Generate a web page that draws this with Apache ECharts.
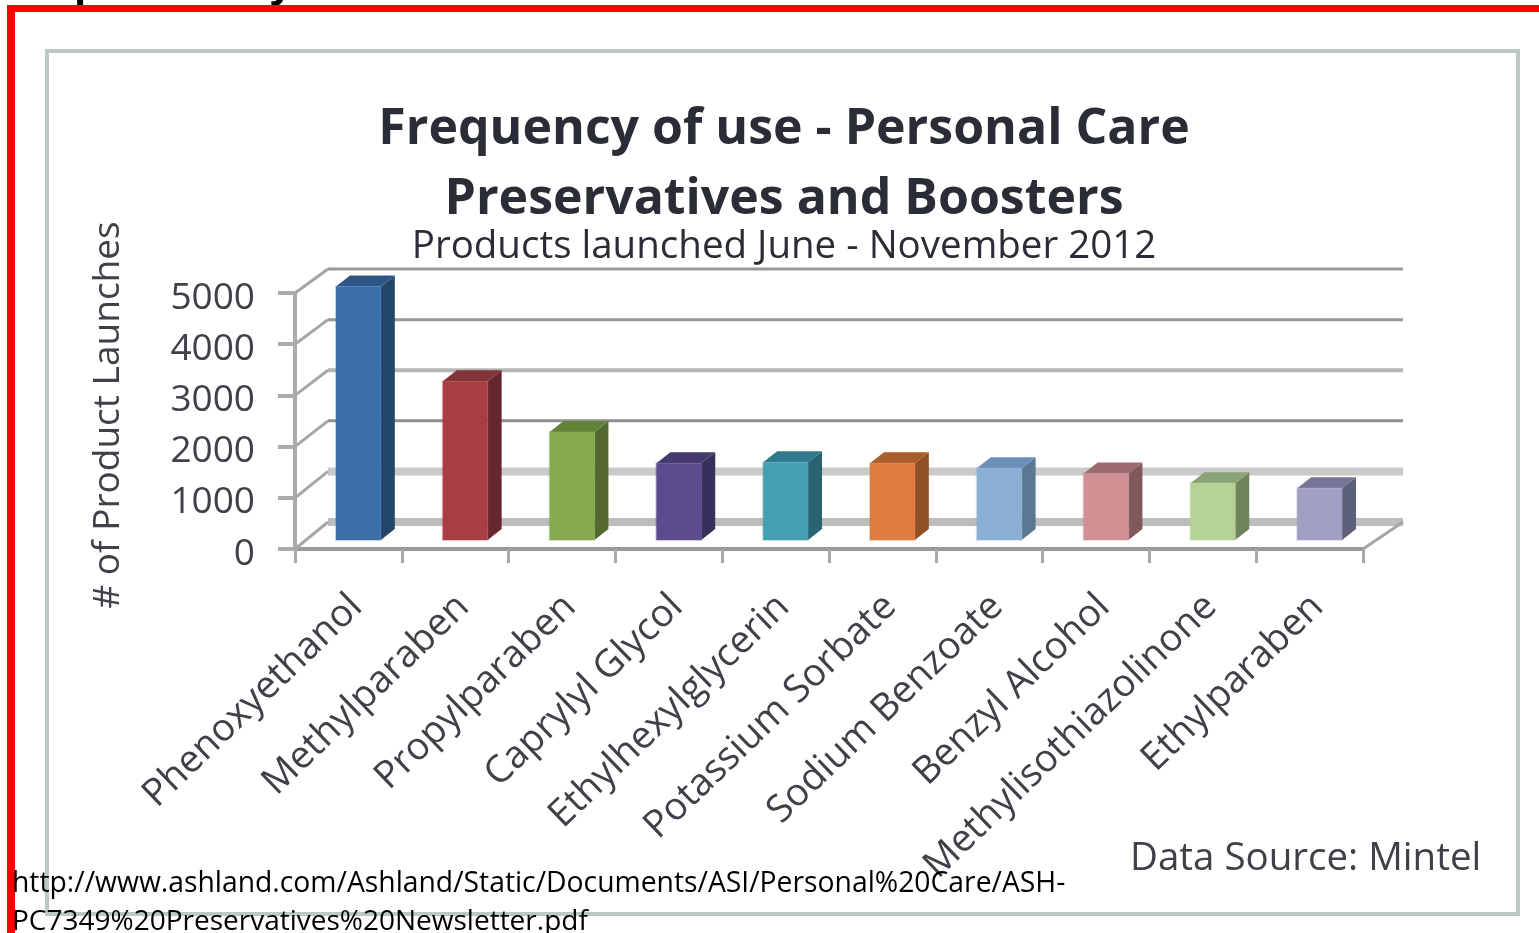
<!DOCTYPE html>
<html>
<head>
<meta charset="utf-8">
<title>Frequency of use - Personal Care Preservatives and Boosters</title>
<style>
html,body{margin:0;padding:0;background:#fff;overflow:hidden}
#chart{width:1539px;height:933px}
</style>
<script src="https://cdn.jsdelivr.net/npm/echarts@6/dist/echarts.min.js"></script>
</head>
<body>
<div id="chart"></div>
<script>
// Preservative usage in personal care launches
const categories = ['Phenoxyethanol','Methylparaben','Propylparaben','Caprylyl Glycol','Ethylhexylglycerin','Potassium Sorbate','Sodium Benzoate','Benzyl Alcohol','Methylisothiazolinone','Ethylparaben'];
const launches = [4950, 3100, 2110, 1500, 1520, 1500, 1400, 1300, 1110, 1010];
const yTicks = [0, 1000, 2000, 3000, 4000, 5000];

// Front, side and top shades of each bar
const frontColors = ['#3b70ab','#a83e43','#86aa50','#5c4c8f','#46a0b4','#df7c3e','#8cafd6','#d09094','#b5d195','#a29fc4'];
const sideColors  = ['#264668','#66282d','#54692f','#392f5b','#2a6373','#914f25','#597893','#81595c','#6e845a','#5d6079'];
const topColors   = ['#2d5685','#813439','#64833a','#453a6e','#2f7a8c','#a85f2c','#6a8fb8','#9c6a6f','#89a575','#757697'];

// Back-wall line weights for each gridline, front-most value first
const wallWidths = [8, 8, 3, 4, 3, 3];
const wallColors = ['#bdbdbd','#cacaca','#8f8f93','#b4b4b4','#97979b','#9a9a9a'];

// Pseudo-3D depth of the plot box and of the bars inside it
const WALL_DX = 33, WALL_EXTRA = 7, WALL_DY = -27, WALL_SHRINK = 0.012;
const BAR_DX = 10, BAR_DY = -9, BAR_SIDE = 14, BAR_TOP = 11, BAR_RATIO = 0.42;

const FONT = '"Open Sans", sans-serif';
const INK = '#2b2d36';
const SOFT_INK = '#3f4148';

function renderWall(params, api) {
  const cs = params.coordSys;
  const y = api.coord([0, api.value(1)])[1];
  const floor = api.coord([0, 0])[1];
  const wallY = y + WALL_DY + (floor - y) * WALL_SHRINK;
  const i = params.dataIndex;
  const left = cs.x, right = cs.x + cs.width;
  const children = [
    { type: 'line', shape: { x1: left + WALL_DX, y1: wallY, x2: right + WALL_DX + WALL_EXTRA, y2: wallY },
      style: { stroke: wallColors[i], lineWidth: wallWidths[i] } },
    { type: 'line', shape: { x1: left, y1: y, x2: left + WALL_DX, y2: wallY },
      style: { stroke: '#a6a6a6', lineWidth: 3 } }
  ];
  if (i === 0) {
    children.push({ type: 'line', shape: { x1: right, y1: y, x2: right + WALL_DX + WALL_EXTRA, y2: wallY },
      style: { stroke: '#a6a6a6', lineWidth: 3 } });
  }
  return { type: 'group', children };
}

function renderBar(params, api) {
  const i = params.dataIndex;
  const top = api.coord([api.value(0), api.value(1)]);
  const base = api.coord([api.value(0), 0]);
  const w = api.size([1, 0])[0] * BAR_RATIO;
  const x0 = top[0] - w / 2 + BAR_DX, x1 = x0 + w;
  const y0 = top[1] + BAR_DY, y1 = base[1] + BAR_DY;
  return {
    type: 'group',
    children: [
      { type: 'polygon', shape: { points: [[x1, y0], [x1 + BAR_SIDE, y0 - BAR_TOP], [x1 + BAR_SIDE, y1 - BAR_TOP], [x1, y1]] },
        style: { fill: sideColors[i] } },
      { type: 'polygon', shape: { points: [[x0, y0], [x0 + BAR_SIDE, y0 - BAR_TOP], [x1 + BAR_SIDE, y0 - BAR_TOP], [x1, y0]] },
        style: { fill: topColors[i] } },
      { type: 'rect', shape: { x: x0, y: y0, width: w, height: y1 - y0 }, style: { fill: frontColors[i] } },
      { type: 'rect', shape: { x: x0, y: y0, width: w, height: y1 - y0 },
        style: { fill: 'none', stroke: frontColors[i], lineWidth: 2, opacity: 0.3 } }
    ]
  };
}

const chart = echarts.init(document.getElementById('chart'), null, { renderer: 'canvas' });

chart.setOption({
  animation: false,
  backgroundColor: '#ffffff',
  title: {
    text: 'Frequency of use - Personal Care\nPreservatives and Boosters',
    subtext: 'Products launched June - November 2012',
    left: 779, top: 90, textAlign: 'center', itemGap: 0,
    textStyle: { fontFamily: FONT, fontWeight: 'bold', fontSize: 50, lineHeight: 70, color: INK },
    subtextStyle: { fontFamily: FONT, fontSize: 38.5, lineHeight: 24, color: INK }
  },
  grid: [
    { left: 295, right: 176, top: 293, bottom: 384 },
    { left: 303, right: 168, top: 293, bottom: 384 }
  ],
  xAxis: [
    { type: 'category', gridIndex: 0, data: categories, boundaryGap: true,
      axisLine: { lineStyle: { color: '#9a9a9a', width: 4 } },
      axisTick: { show: true, interval: 0, length: 14, lineStyle: { color: '#a8a8a8', width: 3 } },
      axisLabel: { show: false }, splitLine: { show: false } },
    { type: 'category', gridIndex: 1, data: categories, boundaryGap: true,
      axisLine: { show: false }, axisTick: { show: false },
      axisLabel: { show: true, interval: 0, rotate: 44, margin: 52, fontFamily: FONT, fontSize: 38, color: SOFT_INK, hideOverlap: false },
      splitLine: { show: false } }
  ],
  yAxis: [
    { type: 'value', gridIndex: 0, min: 0, max: 5000, interval: 1000,
      name: '# of Product Launches', nameLocation: 'middle', nameGap: 168, nameRotate: 90,
      nameTextStyle: { fontFamily: FONT, fontSize: 37, color: SOFT_INK, padding: [0, 0, 0, 12] },
      axisLine: { show: true, lineStyle: { color: '#ababab', width: 4 } },
      axisTick: { show: true, length: 17, lineStyle: { color: '#ababab', width: 4 } },
      axisLabel: { margin: 40, fontFamily: FONT, fontSize: 37, color: SOFT_INK, verticalAlign: 'top', lineHeight: 10,
        formatter: value => String(value) },
      splitLine: { show: false } },
    { type: 'value', gridIndex: 1, min: 0, max: 5000, interval: 1000, show: false }
  ],
  series: [
    { type: 'custom', xAxisIndex: 0, yAxisIndex: 0, z: 1, clip: false, renderItem: renderWall,
      data: yTicks.map(v => [0, v]), silent: true },
    { type: 'custom', xAxisIndex: 0, yAxisIndex: 0, z: 3, clip: false, renderItem: renderBar,
      encode: { x: 0, y: 1 }, data: launches.map((v, i) => [i, v]) }
  ],
  graphic: [
    // Outer panel
    { type: 'rect', z: 0, silent: true, shape: { x: 47, y: 51, width: 1471, height: 863 },
      style: { fill: '#fff', stroke: '#bcc8c4', lineWidth: 4 } },
    // Slide heading cut off at the top edge
    { type: 'text', z: 9, silent: true, x: 74, y: -34, style: { text: 'p', font: 'bold 40px ' + FONT, fill: '#000' } },
    { type: 'text', z: 9, silent: true, x: 270, y: -34, style: { text: 'y', font: 'bold 40px ' + FONT, fill: '#000' } },
    // Red slide frame
    { type: 'rect', z: 10, silent: true, shape: { x: 7, y: 5, width: 1539, height: 7 }, style: { fill: '#ff0000' } },
    { type: 'rect', z: 10, silent: true, shape: { x: 7, y: 5, width: 8, height: 928 }, style: { fill: '#ff0000' } },
    // Source credit and link
    { type: 'text', z: 5, silent: true, x: 1130, y: 840, style: { text: 'Data Source: Mintel', font: '38.5px ' + FONT, fill: SOFT_INK } },
    { type: 'text', z: 11, silent: true, x: 12, y: 870, style: { text: 'http://www.ashland.com/Ashland/Static/Documents/ASI/Personal%20Care/ASH-', font: '28.3px ' + FONT, fill: '#000' } },
    { type: 'text', z: 11, silent: true, x: 12, y: 908, style: { text: 'PC7349%20Preservatives%20Newsletter.pdf', font: '28px ' + FONT, fill: '#000' } }
  ]
});
</script>
</body>
</html>
